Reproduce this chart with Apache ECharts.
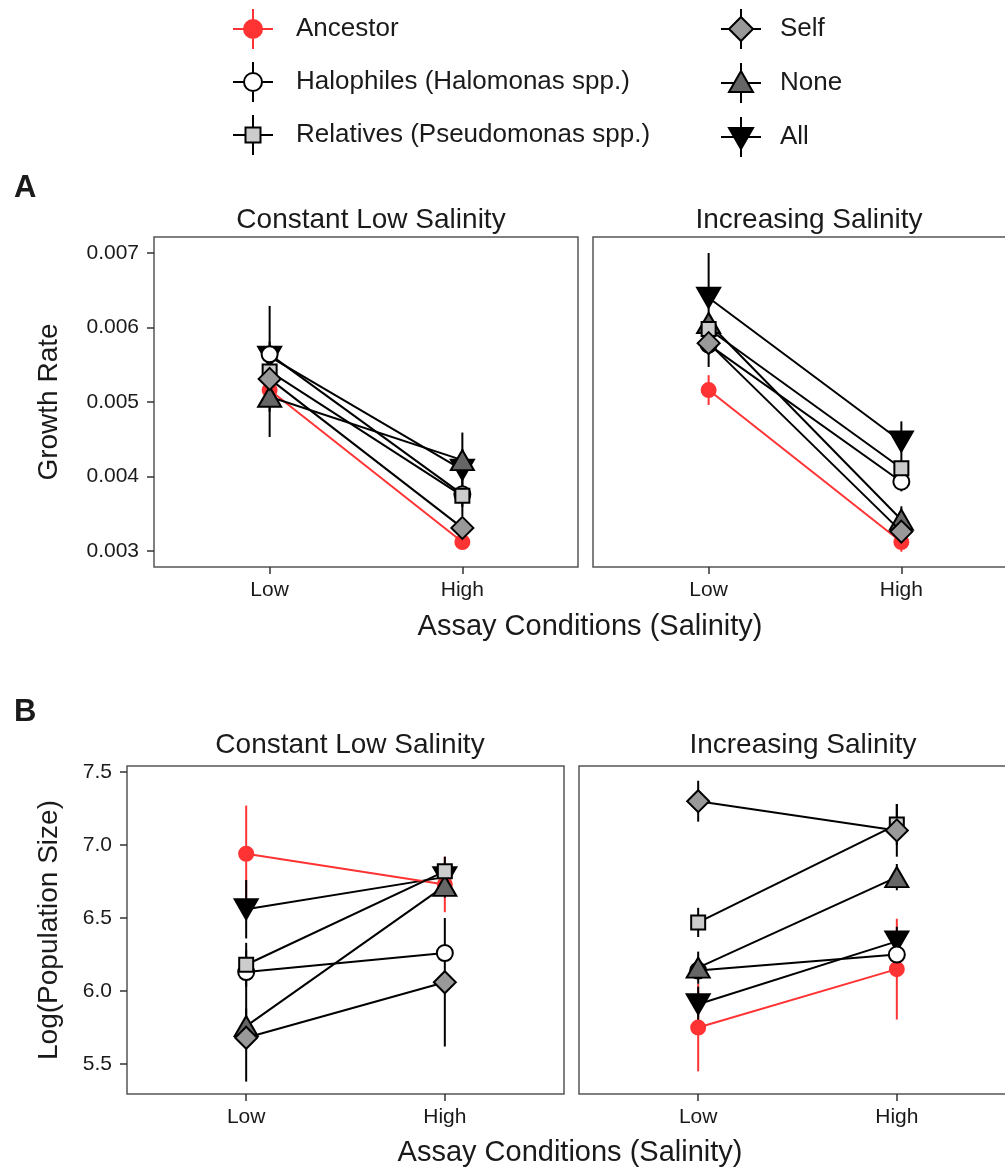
<!DOCTYPE html>
<html><head><meta charset="utf-8">
<script src="https://cdn.jsdelivr.net/npm/echarts@6/dist/echarts.min.js"></script>
<style>html,body{margin:0;padding:0;background:#fff}#c{width:1005px;height:1169px}</style>
</head><body><div id="c"></div>
<script>
// ---------- data ----------
const conditionLabels = ['Low', 'High'];
const conditionPos = [1, 2];
const groupNames = ['Ancestor', 'Halophiles (Halomonas spp.)', 'Relatives (Pseudomonas spp.)', 'Self', 'None', 'All'];
const panelTitles = ['Constant Low Salinity', 'Increasing Salinity'];
const growthTicks = [0.003, 0.004, 0.005, 0.006, 0.007];
const popTicks = [5.5, 6.0, 6.5, 7.0, 7.5];

// Growth rate, constant low salinity (group order as groupNames)
const growthConstLow = [0.00516, 0.00564, 0.00541, 0.00531, 0.00507, 0.00561];
const growthConstLowErr = [0.0001, 0.0001, 0.00088, 0.0001, 0.0002, 0.0002];
const growthConstHigh = [0.00312, 0.00376, 0.00374, 0.00331, 0.00422, 0.00409];
const growthConstHighErr = [0.0001, 0.0001, 0.00027, 0.0001, 0.00015, 0.0005];
// Growth rate, increasing salinity
const growthIncLow = [0.00516, 0.00577, 0.00598, 0.00579, 0.00606, 0.00640];
const growthIncLowErr = [0.0002, 0.0003, 0.0001, 0.0001, 0.0001, 0.0006];
const growthIncHigh = [0.00312, 0.00393, 0.00411, 0.00326, 0.00342, 0.00447];
const growthIncHighErr = [0.00013, 0.00013, 0.0001, 0.0001, 0.00018, 0.00027];
// Log population size, constant low salinity
const popConstLow = [6.94, 6.13, 6.18, 5.68, 5.76, 6.56];
const popConstLowErr = [0.33, 0.15, 0.15, 0.3, 0.12, 0.2];
const popConstHigh = [6.73, 6.26, 6.82, 6.06, 6.72, 6.78];
const popConstHighErr = [0.19, 0.05, 0.1, 0.44, 0.08, 0.1];
// Log population size, increasing salinity
const popIncLow = [5.75, 6.14, 6.47, 7.30, 6.16, 5.91];
const popIncLowErr = [0.3, 0.05, 0.1, 0.14, 0.11, 0.12];
const popIncHigh = [6.15, 6.25, 7.14, 7.10, 6.78, 6.34];
const popIncHighErr = [0.345, 0.04, 0.14, 0.18, 0.09, 0.1];

// ---------- styles ----------
const RED = '#ff3333';
// z: drawing order (All lowest, then Ancestor, Halophiles, None, Relatives, Self)
const groupStyle = [
  {symbol: 'circle', size: 14, fill: RED, stroke: RED, line: RED, rotate: 0, z: 4},
  {symbol: 'circle', size: 16, fill: '#ffffff', stroke: '#000', line: '#000', rotate: 0, z: 5},
  {symbol: 'rect', size: 14, fill: '#cccccc', stroke: '#000', line: '#000', rotate: 0, z: 7},
  {symbol: 'diamond', size: 22, fill: '#999999', stroke: '#000', line: '#000', rotate: 0, z: 8},
  {symbol: 'triangle', size: [23, 20], fill: '#666666', stroke: '#000', line: '#000', rotate: 0, z: 6},
  {symbol: 'triangle', size: [23, 20], fill: '#000000', stroke: '#000', line: '#000', rotate: 180, z: 3}
];
const legendIcons = [
  'path://M0,20L11,20M29,20L40,20M20,0L20,11M20,29L20,40M11,20A9,9,0,1,0,29,20A9,9,0,1,0,11,20Z',
  'path://M0,20L11,20M29,20L40,20M20,0L20,11M20,29L20,40M11,20A9,9,0,1,0,29,20A9,9,0,1,0,11,20Z',
  'path://M0,20L12.5,20M27.5,20L40,20M20,0L20,12.5M20,27.5L20,40M12.5,12.5L27.5,12.5L27.5,27.5L12.5,27.5Z',
  'path://M0,20L8,20M32,20L40,20M20,0L20,8M20,32L20,40M20,8L32,20L20,32L8,20Z',
  'path://M0,20L13.1,20M26.9,20L40,20M20,0L20,8M20,29L20,40M20,8L32,29L8,29Z',
  'path://M0,20L13.1,20M26.9,20L40,20M20,0L20,11M20,32L20,40M8,11L32,11L20,32Z'
];

const FONT = 'Liberation Sans, Arial, sans-serif';
const TXT = '#1a1a1a';

const panels = [
  {low: growthConstLow, lowErr: growthConstLowErr, high: growthConstHigh, highErr: growthConstHighErr},
  {low: growthIncLow, lowErr: growthIncLowErr, high: growthIncHigh, highErr: growthIncHighErr},
  {low: popConstLow, lowErr: popConstLowErr, high: popConstHigh, highErr: popConstHighErr},
  {low: popIncLow, lowErr: popIncLowErr, high: popIncHigh, highErr: popIncHighErr}
];

const grids = [
  {left: 154, top: 237, width: 424, height: 330},
  {left: 593, top: 237, width: 424, height: 330},
  {left: 127, top: 766, width: 437, height: 328},
  {left: 579, top: 766, width: 437, height: 328}
].map(g => Object.assign(g, {show: true, borderColor: '#555555', borderWidth: 1.5, backgroundColor: 'transparent', containLabel: false, outerBoundsMode: 'none'}));

const xAxes = grids.map((g, i) => ({
  type: 'value', gridIndex: i, min: 0.4, max: 2.6,
  splitLine: {show: false}, axisLine: {show: false},
  axisTick: {show: true, customValues: conditionPos, length: 7, lineStyle: {color: '#333', width: 1.5}},
  axisLabel: {show: true, customValues: conditionPos, margin: 13, fontSize: 21, fontFamily: FONT, color: TXT,
    formatter: v => conditionLabels[conditionPos.indexOf(Math.round(v))]}
}));

const yAxes = grids.map((g, i) => {
  const isGrowth = i < 2, isLeft = i % 2 === 0;
  return {
    type: 'value', gridIndex: i,
    min: isGrowth ? 0.002785 : 5.295, max: isGrowth ? 0.007215 : 7.541,
    splitLine: {show: false}, axisLine: {show: false},
    axisTick: {show: isLeft, customValues: isGrowth ? growthTicks : popTicks, length: 7, lineStyle: {color: '#333', width: 1.5}},
    axisLabel: {show: isLeft, customValues: isGrowth ? growthTicks : popTicks, margin: 15, fontSize: 21, fontFamily: FONT, color: TXT,
      formatter: v => isGrowth ? v.toFixed(3) : v.toFixed(1)},
    name: isLeft ? (isGrowth ? 'Growth Rate' : 'Log(Population Size)') : '',
    nameLocation: 'middle', nameGap: isGrowth ? 91 : 64,
    nameTextStyle: {fontSize: 28, fontFamily: FONT, color: TXT}
  };
});

const series = [];
panels.forEach((p, pi) => {
  const errData = [];
  groupNames.forEach((n, gi) => {
    errData.push([conditionPos[0], p.low[gi], p.lowErr[gi], gi]);
    errData.push([conditionPos[1], p.high[gi], p.highErr[gi], gi]);
  });
  series.push({
    type: 'custom', name: 'err' + pi, xAxisIndex: pi, yAxisIndex: pi, z: 2,
    encode: {x: 0, y: 1}, data: errData, silent: true,
    renderItem: (params, api) => {
      const x = api.value(0), m = api.value(1), e = api.value(2), g = api.value(3);
      const a = api.coord([x, m - e]), b = api.coord([x, m + e]);
      return {type: 'line', shape: {x1: a[0], y1: a[1], x2: b[0], y2: b[1]},
        style: {stroke: groupStyle[g].line, lineWidth: 2}};
    }
  });
  groupNames.forEach((n, gi) => {
    const s = groupStyle[gi];
    series.push({
      type: 'line', name: n, xAxisIndex: pi, yAxisIndex: pi, z: s.z,
      data: [[conditionPos[0], p.low[gi]], [conditionPos[1], p.high[gi]]],
      symbol: s.symbol, symbolSize: s.size, symbolRotate: s.rotate, showSymbol: true,
      lineStyle: {color: s.line, width: 2},
      itemStyle: {color: s.fill, borderColor: s.stroke, borderWidth: 2},
      emphasis: {disabled: true}, animation: false
    });
  });
});

const legendData = groupNames.map((n, gi) => ({
  name: n, icon: legendIcons[gi],
  itemStyle: {color: groupStyle[gi].fill, borderColor: groupStyle[gi].stroke, borderWidth: 2}
}));
const legendCommon = {orient: 'vertical', itemWidth: 40, itemHeight: 40, itemGap: 11, padding: 0, selectedMode: false,
  textStyle: {fontSize: 26, fontFamily: FONT, color: TXT}};

const titleStyle = (size, bold) => ({fontSize: size, fontFamily: FONT, color: TXT, fontWeight: bold ? 'bold' : 'normal'});
const option = {
  backgroundColor: '#ffffff',
  animation: false,
  title: [
    {text: 'A', left: 9, top: 168, textStyle: titleStyle(31, true)},
    {text: 'B', left: 9, top: 692, textStyle: titleStyle(31, true)},
    {text: panelTitles[0], left: 366, top: 201, textAlign: 'center', textStyle: titleStyle(28)},
    {text: panelTitles[1], left: 804, top: 201, textAlign: 'center', textStyle: titleStyle(28)},
    {text: panelTitles[0], left: 345, top: 726, textAlign: 'center', textStyle: titleStyle(28)},
    {text: panelTitles[1], left: 798, top: 726, textAlign: 'center', textStyle: titleStyle(28)},
    {text: 'Assay Conditions (Salinity)', left: 585, top: 607, textAlign: 'center', textStyle: titleStyle(29)},
    {text: 'Assay Conditions (Salinity)', left: 565, top: 1133, textAlign: 'center', textStyle: titleStyle(29)}
  ],
  legend: [
    Object.assign({left: 232, top: 8, data: legendData.slice(0, 3)}, legendCommon,
      {textStyle: Object.assign({}, legendCommon.textStyle, {padding: [0, 0, 0, 18]})}),
    Object.assign({left: 720, top: 8, data: legendData.slice(3)}, legendCommon,
      {itemGap: 12, textStyle: Object.assign({}, legendCommon.textStyle, {padding: [0, 0, 0, 14]})})
  ],
  grid: grids,
  xAxis: xAxes,
  yAxis: yAxes,
  series: series
};
const chart = echarts.init(document.getElementById('c'), null, {renderer: 'canvas'});
chart.setOption(option);
</script>
</body></html>
